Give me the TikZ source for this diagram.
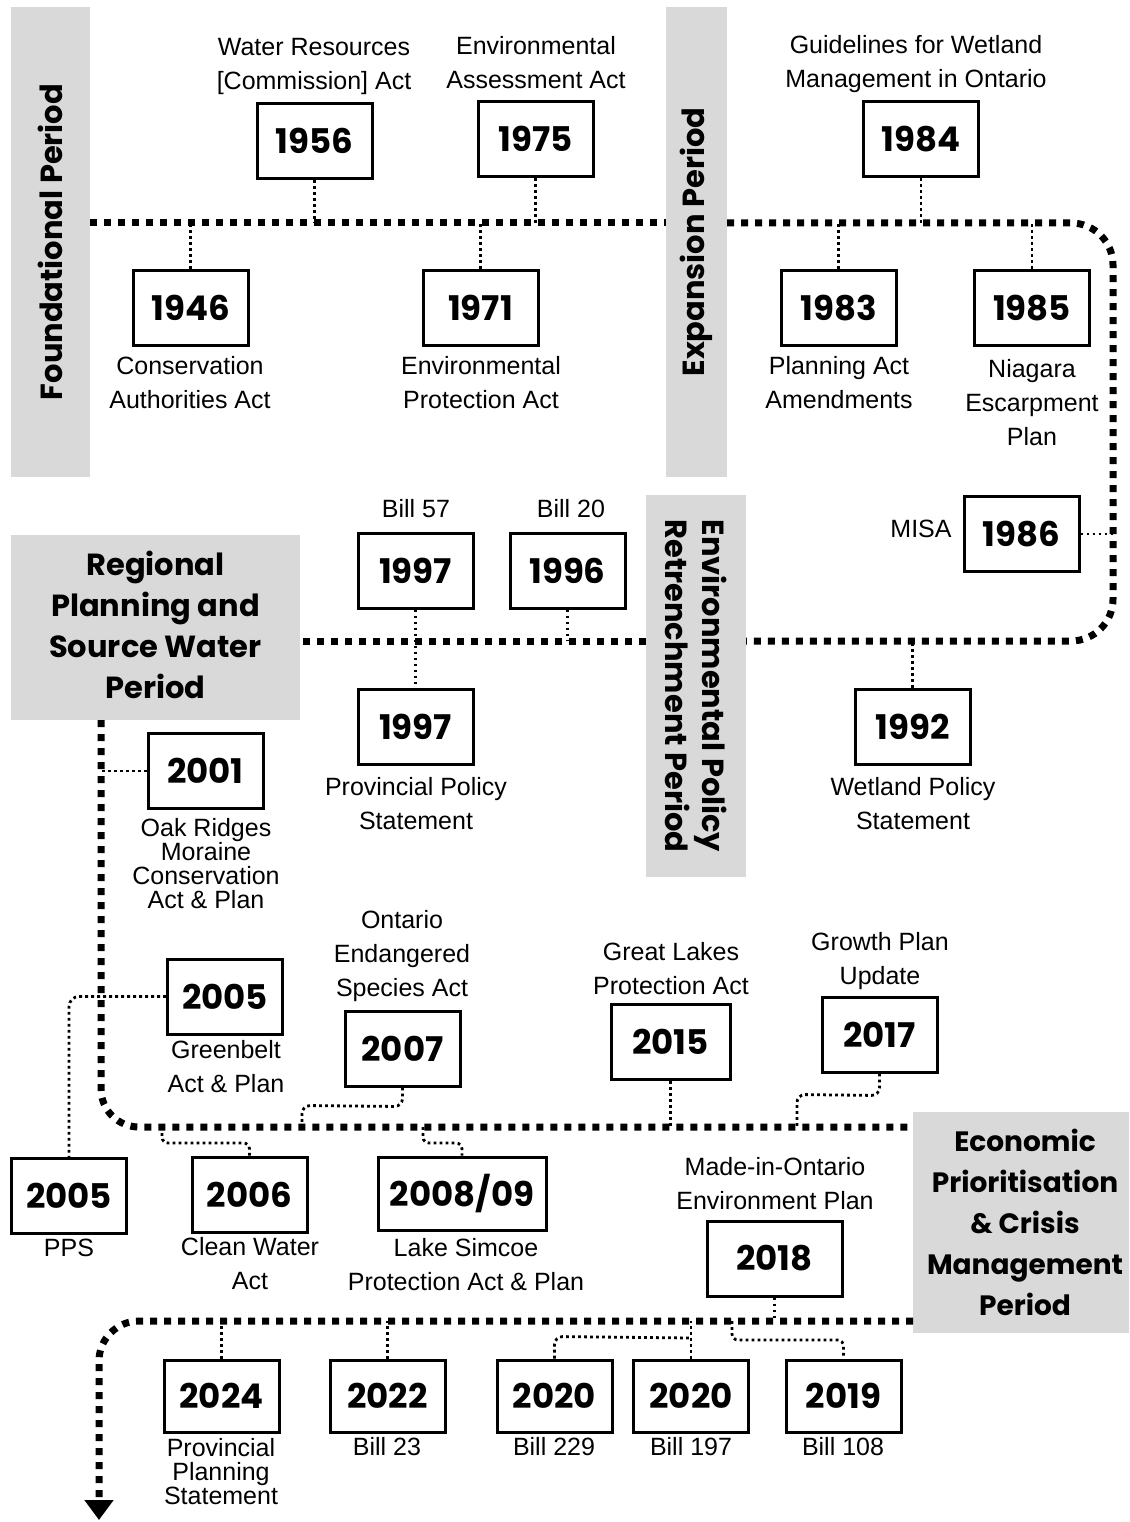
\documentclass[tikz,border=0pt]{standalone}
\usepackage{fontspec}
\setmainfont{Liberation Sans}
\newfontfamily\yearfont{Poppins}
\usetikzlibrary{arrows.meta}
\definecolor{bandgray}{HTML}{D9D9D9}
\tikzset{
  yr/.style={draw, line width=3pt, fill=white, minimum width=115pt, minimum height=75pt, inner sep=0pt,
    font=\yearfont\bfseries\fontsize{34}{40}\selectfont},
  lbl/.style={align=center, inner sep=0pt, font=\fontsize{25}{34}\selectfont},
  lbltight/.style={align=center, inner sep=0pt, font=\fontsize{25}{24}\selectfont},
  band/.style={fill=bandgray, inner sep=0pt, align=center, font=\yearfont\bfseries\fontsize{30.5}{41}\selectfont},
  tl/.style={line width=7pt, dash pattern=on 7pt off 7pt},
  conn/.style={line width=2.8pt, dash pattern=on 2.8pt off 3.2pt}
}
\begin{document}
\begin{tikzpicture}[x=1pt,y=-1pt]
\fill[white] (0,0) rectangle (1129,1522);
\useasboundingbox (0,0) rectangle (1129,1522);

% period bands
\node[band, rotate=90, minimum width=470pt, minimum height=79pt] (fp) at (50.5,242) {Foundational Period};
\node[band, rotate=90, minimum width=470pt, minimum height=61pt] (ep) at (696.5,242) {Expansion Period};
\node[band, rotate=-90, minimum width=382pt, minimum height=100pt, font=\yearfont\bfseries\fontsize{30.5}{37}\selectfont] (rp) at (696,686) {Environmental Policy\\Retrenchment Period};
\fill[bandgray] (11,535) rectangle (300,720);
\node[band, fill=none] (sp) at (155.5,624.5) {Regional\\Planning and\\Source Water\\Period};
\node[band, minimum width=216pt, minimum height=221pt, font=\yearfont\bfseries\fontsize{28}{41}\selectfont] (cp) at (1021,1222.5) {\hspace*{8pt}Economic\\\hspace*{8pt}Prioritisation\\\hspace*{8pt}\& Crisis\\\hspace*{8pt}Management\\\hspace*{8pt}Period};

% timeline reference coordinates
\coordinate (L1) at (0,223);
\coordinate (L2) at (0,641);
\coordinate (L3) at (0,1127);
\coordinate (L4) at (0,1321);
\coordinate (V1) at (1113,0);
\coordinate (V2) at (101,0);

% main timeline
\draw[tl] (90,223) -- (666,223);
\draw[tl, rounded corners=42pt] (727,223) -- (1113,223) -- (1113,641) -- (746,641);
\draw[tl] (646,641) -- (300,641);
\draw[tl, rounded corners=38pt] (101,720) -- (101,1127) -- (913,1127);
\draw[tl, rounded corners=40pt, -{Triangle[width=28pt,length=20pt]}] (913,1321) -- (99,1321) -- (99,1520);

% year boxes
\node[yr] (b1956) at (314.5,141) {1956};
\node[yr] (b1975) at (535.5,139) {1975};
\node[yr] (b1984) at (921,139) {1984};
\node[yr] (b1946) at (190.5,308) {1946};
\node[yr] (b1971) at (480.5,308) {1971};
\node[yr] (b1983) at (838.5,308) {1983};
\node[yr] (b1985) at (1032,308) {1985};
\node[yr] (b1986) at (1021.5,534) {1986};
\node[yr] (b1997a) at (415.5,570.5) {1997};
\node[yr] (b1996) at (567.5,570.5) {1996};
\node[yr] (b1997b) at (415.5,726.5) {1997};
\node[yr] (b1992) at (912.5,726.5) {1992};
\node[yr] (b2001) at (205.5,771) {2001};
\node[yr] (b2005a) at (225,996.5) {2005};
\node[yr] (b2007) at (402.5,1048.5) {2007};
\node[yr, minimum width=119pt] (b2015) at (670.5,1042) {2015};
\node[yr] (b2017) at (879.5,1034.5) {2017};
\node[yr] (b2005b) at (69,1196) {2005};
\node[yr] (b2006) at (249.5,1195) {2006};
\node[yr, minimum width=168pt, minimum height=73pt] (b2008) at (462,1193.5) {2008/09};
\node[yr, minimum width=135pt] (b2018) at (774.5,1258.5) {2018};
\node[yr, minimum height=72pt] (b2024) at (221.5,1396) {2024};
\node[yr, minimum height=72pt] (b2022) at (387.5,1396) {2022};
\node[yr, minimum height=72pt] (b2020a) at (554.5,1396) {2020};
\node[yr, minimum height=72pt] (b2020b) at (691,1396) {2020};
\node[yr, minimum height=72pt] (b2019) at (843.5,1396) {2019};

% labels
\node[lbl] (l1956) at (314,66) {Water Resources\\{}[Commission] Act};
\node[lbl] (l1975) at (536,63) {Environmental\\Assessment Act};
\node[lbl] (l1984) at (916,64) {Guidelines for Wetland\\Management in Ontario};
\node[lbl] (l1946) at (190,383) {Conservation\\Authorities Act};
\node[lbl] (l1971) at (481,383) {Environmental\\Protection Act};
\node[lbl] (l1983) at (839,383) {Planning Act\\Amendments};
\node[lbl] (l1985) at (1032,403) {Niagara\\Escarpment\\Plan};
\node[lbl] (lmisa) at (921,529) {MISA};
\node[lbl] (lb57) at (416,509) {Bill 57};
\node[lbl] (lb20) at (571,509) {Bill 20};
\node[lbl] (l1997b) at (416,804) {Provincial Policy\\Statement};
\node[lbl] (l1992) at (913,804) {Wetland Policy\\Statement};
\node[lbltight] (l2001) at (206,864) {Oak Ridges\\Moraine\\Conservation\\Act \& Plan};
\node[lbl] (l2005a) at (226,1067) {Greenbelt\\Act \& Plan};
\node[lbl] (l2007) at (402,956) {Ontario\\Endangered\\Species Act};
\node[lbl] (l2015) at (671,969) {Great Lakes\\Protection Act};
\node[lbl] (l2017) at (880,961) {Growth Plan\\Update};
\node[lbl] (l2005b) at (69,1248) {PPS};
\node[lbl] (l2006) at (250,1264) {Clean Water\\Act};
\node[lbl] (l2008) at (466,1265) {Lake Simcoe\\Protection Act \& Plan};
\node[lbl] (l2018) at (775,1184) {Made-in-Ontario\\Environment Plan};
\node[lbltight] (l2024) at (221,1472) {Provincial\\Planning\\Statement};
\node[lbl] (lb23) at (387,1447) {Bill 23};
\node[lbl] (lb229) at (554,1447) {Bill 229};
\node[lbl] (lb197) at (691,1447) {Bill 197};
\node[lbl] (lb108) at (843,1447) {Bill 108};

% connectors
\draw[conn] (b1956.south) -- (b1956.south |- L1);
\draw[conn] (b1975.south) -- (b1975.south |- L1);
\draw[conn] (b1984.south) -- (b1984.south |- L1);
\draw[conn] (b1946.north) -- (b1946.north |- L1);
\draw[conn] (b1971.north) -- (b1971.north |- L1);
\draw[conn] (b1983.north) -- (b1983.north |- L1);
\draw[conn] (b1985.north) -- (b1985.north |- L1);
\draw[conn] (b1986.east) -- (b1986.east -| V1);
\draw[conn] (b1997a.south) -- (b1997b.north);
\draw[conn] (b1996.south) -- (b1996.south |- L2);
\draw[conn] (b1992.north) -- (b1992.north |- L2);
\draw[conn] (b2001.west) -- (b2001.west -| V2);
\draw[conn, rounded corners=10pt] (b2005a.west) -| (b2005b.north);
\draw[conn, rounded corners=8pt] (b2007.south) -- ++(0,19) -- (302,1105.5) -- (302,1127);
\draw[conn] (b2015.south) -- (b2015.south |- L3);
\draw[conn, rounded corners=8pt] (b2017.south) -- ++(0,22) -- (797,1094.5) -- (797,1127);
\coordinate (j2006) at (162,1127);
\draw[conn, rounded corners=6pt] (j2006) -- (162,1143) -- (249.5,1143) -- (b2006.north);
\coordinate (j2008) at (423,1127);
\draw[conn, rounded corners=6pt] (j2008) -- (423,1143) -- (462,1143) -- (b2008.north);
\draw[conn] (b2018.south) -- (b2018.south |- L4);
\draw[conn] (b2024.north) -- (b2024.north |- L4);
\draw[conn] (b2022.north) -- (b2022.north |- L4);
\draw[conn] (b2020b.north) -- (b2020b.north |- L4);
\draw[conn, rounded corners=8pt] (b2020a.north) -- ++(0,-22) -- (691,1338);
\coordinate (j2019) at (732,1321);
\draw[conn, rounded corners=6pt] (j2019) -- (732,1340) -- (843.5,1340) -- (b2019.north);
\end{tikzpicture}
\end{document}
